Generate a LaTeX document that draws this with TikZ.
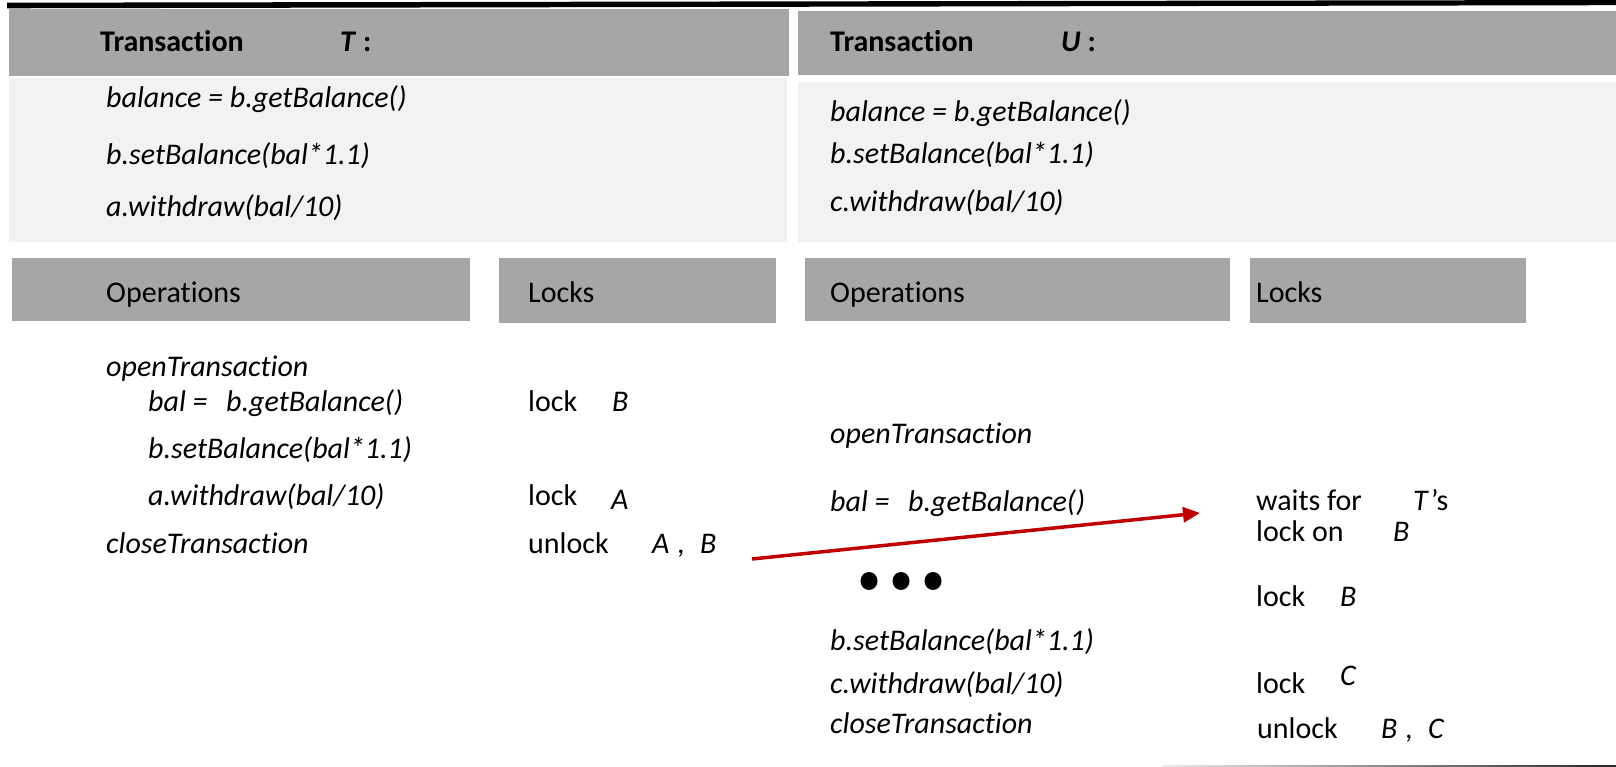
\documentclass[tikz,border=0pt]{standalone}
\usepackage{fontspec}
\setmainfont[Ligatures={TeX,NoCommon}]{Carlito}
\usetikzlibrary{arrows.meta,shapes.geometric}
\definecolor{hdrgray}{HTML}{A6A6A6}
\definecolor{bodygray}{HTML}{F2F2F2}
\definecolor{arrowred}{HTML}{C00000}
\tikzset{
  hdrbox/.style={fill=hdrgray},
  bodybox/.style={fill=bodygray},
  txt/.style={anchor=base west, inner sep=0pt, font=\fontsize{30}{36}\selectfont},
  itxt/.style={txt, font=\fontsize{30}{36}\selectfont\itshape},
  btxt/.style={txt, font=\fontsize{30}{36}\selectfont\bfseries},
  dot/.style={fill=black, ellipse, minimum width=17pt, minimum height=18pt, inner sep=0pt},
  waitarrow/.style={draw=arrowred, line width=3.5pt, -{Triangle[length=17pt,width=15pt]}}
}
\begin{document}
\begin{tikzpicture}[x=1pt,y=-1pt]
\useasboundingbox (0,0) rectangle (1616,767);
\fill[white] (0,0) rectangle (1616,767);

% thick rule along the top edge
\fill[black] (7,2.7) -- (1616,0) -- (1616,5.2) -- (7,8.3) -- cycle;

% transaction headers and bodies
\path[hdrbox] (9,9.5) rectangle (788.5,76);
\path[bodybox] (9,78) rectangle (787,242);
\path[hdrbox] (798,11.5) rectangle (1616,75);
\path[bodybox] (798,82) rectangle (1616,242);

% column headers
\path[hdrbox] (12,258) rectangle (469.5,321);
\path[hdrbox] (499,258) rectangle (776,323);
\path[hdrbox] (805,258) rectangle (1230,321);
\path[hdrbox] (1250,258) rectangle (1526,323);

% bottom rule
\shade[left color=black!8, right color=black!85] (1163,765) rectangle (1616,767.5);

% ---- transaction T ----
\node[btxt] (tT) at (100,51.7) {Transaction};
\node[btxt] (tTname) at (340,51.7) {\textit{T} :};
\node[itxt] (tT1) at (106,108) {balance = b.getBalance()};
\node[itxt] (tT2) at (106,165) {b.setBalance(bal*1.1)};
\node[itxt] (tT3) at (106,216.7) {a.withdraw(bal/10)};

% ---- transaction U ----
\node[btxt] (tU) at (830,51.7) {Transaction};
\node[btxt] (tUname) at (1061,51.7) {\textit{U} :};
\node[itxt] (tU1) at (830,121.7) {balance = b.getBalance()};
\node[itxt] (tU2) at (830,163.3) {b.setBalance(bal*1.1)};
\node[itxt] (tU3) at (830,211.7) {c.withdraw(bal/10)};

% ---- column titles ----
\node[txt] (opsT) at (106,302) {Operations};
\node[txt] (lockT) at (528,302) {Locks};
\node[txt] (opsU) at (830,302) {Operations};
\node[txt] (lockU) at (1256,302) {Locks};

% ---- operations of T ----
\node[itxt] (oT0) at (106,376.7) {openTransaction};
\node[itxt] (oT1) at (148,411.7) {bal =};
\node[itxt] (oT1b) at (226,411.7) {b.getBalance()};
\node[itxt] (oT2) at (148,458) {b.setBalance(bal*1.1)};
\node[itxt] (oT3) at (148,505) {a.withdraw(bal/10)};
\node[itxt] (oT4) at (106,553) {closeTransaction};

% ---- locks of T ----
\node[txt] (lT1) at (528,411.7) {lock};
\node[itxt] (lT1o) at (612,411.7) {B};
\node[txt] (lT2) at (528,505) {lock};
\node[itxt] (lT2o) at (611,509) {A};
\node[txt] (lT3) at (528,553) {unlock};
\node[itxt] (lT3a) at (652,553) {A};
\node[txt] (lT3c) at (677,553) {,};
\node[itxt] (lT3b) at (700,553) {B};

% ---- operations of U ----
\node[itxt] (oU0) at (830,443) {openTransaction};
\node[itxt] (oU1) at (830,511) {bal =};
\node[itxt] (oU1b) at (908,511) {b.getBalance()};
\node[dot] (d1) at (869,581) {};
\node[dot] (d2) at (901,581) {};
\node[dot] (d3) at (933,581) {};
\node[itxt] (oU2) at (830,650) {b.setBalance(bal*1.1)};
\node[itxt] (oU3) at (830,693) {c.withdraw(bal/10)};
\node[itxt] (oU4) at (830,733) {closeTransaction};

% ---- locks of U ----
\node[txt] (lU1) at (1256,510) {waits for};
\node[txt] (lU1t) at (1413,510) {\textit{T}\kern2pt’s};
\node[txt] (lU2) at (1256,541.7) {lock on};
\node[itxt] (lU2o) at (1393,541.7) {B};
\node[txt] (lU3) at (1256,606.7) {lock};
\node[itxt] (lU3o) at (1340,606.7) {B};
\node[txt] (lU4) at (1256,693) {lock};
\node[itxt] (lU4o) at (1340,685) {C};
\node[txt] (lU5) at (1257,738) {unlock};
\node[itxt] (lU5b) at (1381,738) {B};
\node[txt] (lU5c) at (1405,738) {,};
\node[itxt] (lU5d) at (1428,738) {C};

% U waits for the lock released by T
\coordinate (release) at (752,559);
\coordinate (waiting) at (1200,513);
\draw[waitarrow] (release) -- (waiting);
\end{tikzpicture}
\end{document}
